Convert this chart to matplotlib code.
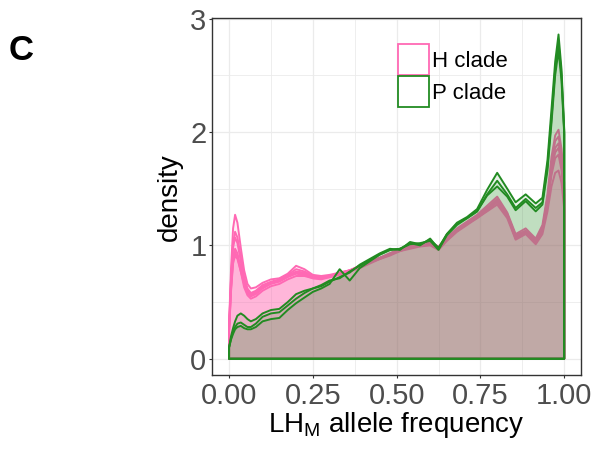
import matplotlib
matplotlib.use("Agg")
import matplotlib.pyplot as plt
from matplotlib.colors import to_rgba
from matplotlib.patches import Patch

# Kernel density estimates of LH_M allele frequency, one curve per replicate
freq = [0, 0.006, 0.012, 0.018, 0.025, 0.035, 0.045, 0.055, 0.065, 0.08,
        0.1, 0.125, 0.15, 0.175, 0.2, 0.225, 0.25, 0.275, 0.3, 0.33,
        0.36, 0.39, 0.42, 0.45, 0.48, 0.51, 0.54, 0.57, 0.6, 0.625,
        0.65, 0.68, 0.71, 0.74, 0.77, 0.8, 0.83, 0.855, 0.885, 0.915,
        0.935, 0.95, 0.962, 0.973, 0.983, 0.992, 1.0]

h_clade = [
    [0.30, 0.80, 1.15, 1.27, 1.20, 0.98, 0.78, 0.66, 0.62, 0.63,
     0.67, 0.70, 0.71, 0.75, 0.82, 0.79, 0.74, 0.73, 0.74, 0.76,
     0.78, 0.82, 0.86, 0.89, 0.93, 0.97, 0.99, 1.01, 1.03, 0.99,
     1.07, 1.15, 1.21, 1.27, 1.35, 1.43, 1.29, 1.10, 1.15, 1.06,
     1.18, 1.45, 1.78, 1.97, 2.02, 1.85, 1.55],
    [0.28, 0.72, 1.02, 1.12, 1.07, 0.90, 0.72, 0.62, 0.58, 0.60,
     0.65, 0.68, 0.70, 0.74, 0.79, 0.77, 0.73, 0.72, 0.73, 0.75,
     0.78, 0.81, 0.85, 0.89, 0.93, 0.96, 0.99, 1.01, 1.02, 0.98,
     1.06, 1.14, 1.20, 1.26, 1.33, 1.41, 1.27, 1.08, 1.12, 1.04,
     1.15, 1.42, 1.72, 1.92, 1.96, 1.80, 1.50],
    [0.27, 0.70, 0.98, 1.07, 1.02, 0.86, 0.70, 0.60, 0.56, 0.58,
     0.63, 0.67, 0.69, 0.73, 0.77, 0.76, 0.72, 0.71, 0.72, 0.75,
     0.77, 0.81, 0.85, 0.88, 0.92, 0.96, 0.98, 1.00, 1.02, 0.97,
     1.05, 1.13, 1.19, 1.25, 1.32, 1.39, 1.26, 1.06, 1.11, 1.02,
     1.13, 1.38, 1.65, 1.82, 1.86, 1.72, 1.45],
    [0.25, 0.64, 0.90, 0.97, 0.93, 0.80, 0.66, 0.58, 0.55, 0.57,
     0.62, 0.66, 0.68, 0.72, 0.75, 0.74, 0.71, 0.71, 0.73, 0.76,
     0.78, 0.82, 0.86, 0.89, 0.92, 0.95, 0.98, 1.00, 1.01, 0.98,
     1.06, 1.13, 1.19, 1.24, 1.31, 1.38, 1.27, 1.09, 1.13, 1.05,
     1.14, 1.37, 1.62, 1.77, 1.80, 1.66, 1.40],
    [0.24, 0.62, 0.87, 0.94, 0.90, 0.77, 0.63, 0.56, 0.53, 0.55,
     0.60, 0.64, 0.66, 0.70, 0.73, 0.73, 0.71, 0.70, 0.72, 0.74,
     0.77, 0.80, 0.84, 0.88, 0.91, 0.95, 0.97, 0.99, 1.00, 0.96,
     1.04, 1.12, 1.18, 1.24, 1.30, 1.36, 1.24, 1.05, 1.10, 1.01,
     1.10, 1.30, 1.52, 1.64, 1.66, 1.55, 1.32],
    [0.24, 0.60, 0.84, 0.91, 0.88, 0.77, 0.66, 0.59, 0.57, 0.59,
     0.64, 0.67, 0.69, 0.73, 0.76, 0.75, 0.72, 0.72, 0.73, 0.75,
     0.78, 0.81, 0.85, 0.89, 0.92, 0.96, 0.99, 1.01, 1.02, 0.98,
     1.05, 1.13, 1.19, 1.26, 1.33, 1.40, 1.28, 1.07, 1.12, 1.03,
     1.14, 1.40, 1.68, 1.86, 1.90, 1.76, 1.48],
]

p_clade = [
    [0.10, 0.20, 0.27, 0.33, 0.38, 0.40, 0.38, 0.35, 0.33, 0.35,
     0.40, 0.43, 0.44, 0.50, 0.57, 0.60, 0.62, 0.64, 0.68, 0.72,
     0.76, 0.83, 0.88, 0.93, 0.97, 0.96, 1.03, 1.01, 1.05, 0.98,
     1.10, 1.20, 1.25, 1.32, 1.49, 1.64, 1.50, 1.38, 1.45, 1.37,
     1.42, 1.75, 2.20, 2.62, 2.86, 2.55, 2.02],
    [0.10, 0.18, 0.24, 0.28, 0.31, 0.32, 0.30, 0.28, 0.28, 0.31,
     0.37, 0.40, 0.41, 0.47, 0.53, 0.58, 0.62, 0.65, 0.69, 0.71,
     0.77, 0.82, 0.87, 0.92, 0.96, 0.97, 1.02, 1.00, 1.06, 0.97,
     1.10, 1.19, 1.24, 1.30, 1.45, 1.57, 1.45, 1.33, 1.41, 1.33,
     1.38, 1.70, 2.12, 2.55, 2.78, 2.50, 2.00],
    [0.10, 0.17, 0.22, 0.26, 0.28, 0.29, 0.27, 0.26, 0.26, 0.28,
     0.33, 0.35, 0.36, 0.43, 0.49, 0.54, 0.59, 0.62, 0.66, 0.79,
     0.69, 0.80, 0.86, 0.92, 0.96, 0.97, 1.01, 1.02, 1.04, 0.96,
     1.09, 1.18, 1.24, 1.30, 1.44, 1.52, 1.43, 1.31, 1.39, 1.30,
     1.36, 1.66, 2.08, 2.50, 2.72, 2.45, 1.98],
]

clade_names = ["H clade", "P clade"]
clade_colors = ["#FF69B4", "#228B22"]
x_ticks = [0, 0.25, 0.5, 0.75, 1.0]
x_ticklabels = ["0.00", "0.25", "0.50", "0.75", "1.00"]
y_ticks = [0, 1, 2, 3]

plt.rcParams["font.family"] = ["Liberation Sans", "DejaVu Sans"]
plt.rcParams["mathtext.default"] = "regular"

fig = plt.figure(figsize=(5.96, 4.5), dpi=100)
ax = fig.add_axes([0.3562, 0.1667, 0.6186, 0.7927])

fill_alpha = 0.1
for curves, color in zip([h_clade, p_clade], clade_colors):
    for dens in curves:
        # closed polygon down to the baseline, like geom_density
        px = [freq[0]] + list(freq) + [freq[-1]]
        py = [0] + list(dens) + [0]
        ax.fill(px, py, facecolor=to_rgba(color, fill_alpha),
                edgecolor=color, linewidth=1.4, joinstyle="round")

ax.set_xlim(-0.05, 1.05)
ax.set_ylim(-0.143, 3.003)
ax.set_xticks(x_ticks)
ax.set_xticklabels(x_ticklabels)
ax.set_xticks([0.125, 0.375, 0.625, 0.875], minor=True)
ax.set_yticks(y_ticks)
ax.set_yticks([0.5, 1.5, 2.5], minor=True)

ax.set_axisbelow(True)
ax.grid(which="major", color="#ebebeb", linewidth=0.9)
ax.grid(which="minor", color="#ebebeb", linewidth=0.6)
for s in ax.spines.values():
    s.set_color("#333333")
    s.set_linewidth(1.0)
ax.tick_params(which="major", length=2.2, width=0.8, color="#333333",
               labelcolor="#4d4d4d", labelsize=21)
ax.tick_params(axis="x", pad=3)
ax.tick_params(axis="y", pad=2)
ax.tick_params(which="minor", length=0)

ax.set_xlabel(r"LH$_M$ allele frequency", fontsize=20, labelpad=0)
ax.set_ylabel("density", fontsize=20, labelpad=5)

handles = [Patch(facecolor="white", edgecolor=c, linewidth=1.3)
           for c in clade_colors]
ax.legend(handles, clade_names, loc="upper left", bbox_to_anchor=(0.504, 0.927),
          frameon=False, fontsize=16, handlelength=1.4, handleheight=1.75,
          labelspacing=0.05, handletextpad=0.12, borderpad=0, borderaxespad=0)

fig.text(0.036, 0.888, "C", fontsize=25, fontweight="bold", ha="center", va="center")

fig.savefig("out.png", dpi=100)
